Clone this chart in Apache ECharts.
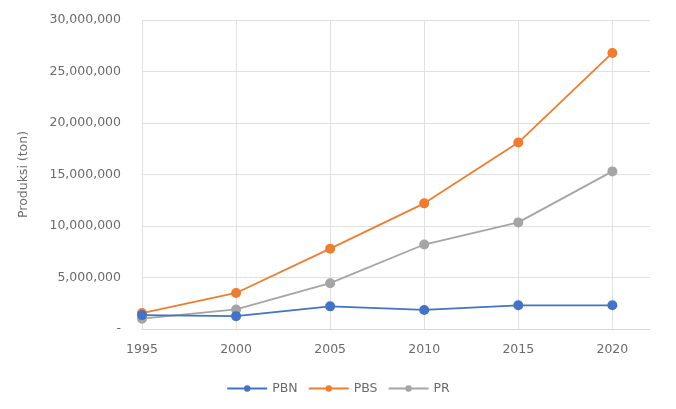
<!DOCTYPE html>
<html>
<head>
<meta charset="utf-8">
<script src="https://cdn.jsdelivr.net/npm/echarts@6/dist/echarts.min.js"></script>
<style>html,body{margin:0;padding:0;background:#fff}#c{width:676px;height:409px}</style>
</head>
<body>
<div id="c"></div>
<script>
const years = [1995, 2000, 2005, 2010, 2015, 2020];
const pbn = [1350000, 1250000, 2200000, 1850000, 2300000, 2300000];
const pbs = [1550000, 3500000, 7800000, 12200000, 18100000, 26800000];
const pr  = [1000000, 1900000, 4450000, 8200000, 10350000, 15300000];
const yTicks = [0, 5000000, 10000000, 15000000, 20000000, 25000000, 30000000];

const pairs = arr => years.map((y, i) => [y, arr[i]]);
const font = 'DejaVu Sans, sans-serif';
const txt = '#6b6b6b';

const chart = echarts.init(document.getElementById('c'), null, {renderer: 'canvas'});
chart.setOption({
  animation: false,
  backgroundColor: '#fff',
  grid: {left: 142, right: 26, top: 20, bottom: 80, containLabel: false},
  xAxis: {
    type: 'value', min: 1995, max: 2022, interval: 5,
    axisLine: {show: true, lineStyle: {color: '#d9d9d9'}},
    axisTick: {show: false},
    axisLabel: {color: txt, fontFamily: font, fontSize: 12.5, margin: 14,
      formatter: v => (v % 5 === 0 ? String(v) : '')},
    splitLine: {show: true, lineStyle: {color: ['#e0e0e0','#e0e0e0','#e0e0e0','#e0e0e0','#e0e0e0','#e0e0e0','rgba(0,0,0,0)'], width: 1}}
  },
  yAxis: {
    type: 'value', min: yTicks[0], max: yTicks[yTicks.length - 1], interval: 5000000,
    name: 'Produksi (ton)', nameLocation: 'middle', nameGap: 112, nameRotate: 90,
    nameTextStyle: {color: txt, fontFamily: font, fontSize: 12.5},
    axisLine: {show: false}, axisTick: {show: false},
    axisLabel: {color: txt, fontFamily: font, fontSize: 12.5, margin: 21,
      formatter: v => v === 0 ? '-' : v.toLocaleString('en-US')},
    splitLine: {lineStyle: {color: '#e0e0e0', width: 1}}
  },
  legend: {
    bottom: 9, left: 'center', itemGap: 10, itemWidth: 40, itemHeight: 8,
    textStyle: {color: txt, fontFamily: font, fontSize: 12.5},
    data: ['PBN', 'PBS', 'PR']
  },
  series: [
    {name: 'PBN', type: 'line', data: pairs(pbn), color: '#4472C4', symbol: 'circle', symbolSize: 10, lineStyle: {width: 1.8}, z: 3},
    {name: 'PBS', type: 'line', data: pairs(pbs), color: '#ED7D31', symbol: 'circle', symbolSize: 10, lineStyle: {width: 1.8}, z: 2},
    {name: 'PR',  type: 'line', data: pairs(pr),  color: '#A5A5A5', symbol: 'circle', symbolSize: 10, lineStyle: {width: 1.8}, z: 1}
  ]
});
</script>
</body>
</html>
